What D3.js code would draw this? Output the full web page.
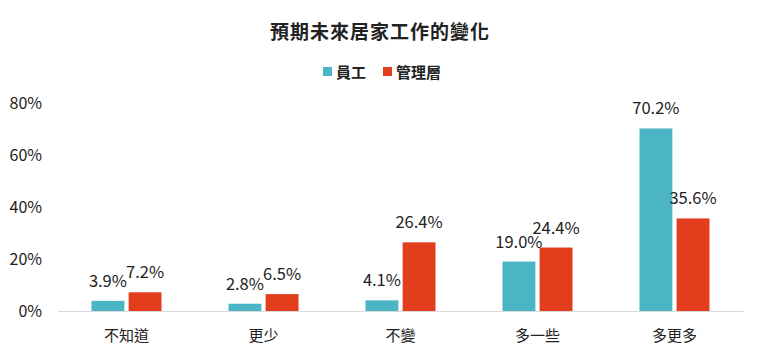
<!DOCTYPE html>
<html>
<head>
<meta charset="utf-8">
<script src="https://cdn.jsdelivr.net/npm/d3@7"></script>
<style>
  body { margin: 0; background: #fff; }
  text { font-family: "Noto Sans CJK TC", "Noto Sans", sans-serif; fill: #222; }
</style>
</head>
<body>
<svg id="chart" width="760" height="359"></svg>
<script>
const title = "預期未來居家工作的變化";
const categories = ["不知道", "更少", "不變", "多一些", "多更多"];
const seriesNames = ["員工", "管理層"];
const employees = [3.9, 2.8, 4.1, 19.0, 70.2];
const managers = [7.2, 6.5, 26.4, 24.4, 35.6];
const yTicks = [0, 20, 40, 60, 80];
const colors = ["#4BB5C6", "#E23D1C"];

const svg = d3.select("#chart");
const plotLeft = 58, plotRight = 743, plotTop = 103, plotBottom = 311;

const x = d3.scaleBand().domain(categories).range([plotLeft, plotRight]).padding(0);
const y = d3.scaleLinear().domain([0, 80]).range([plotBottom, plotTop]);
const barW = 31, gap = 8;
const x1 = d3.scaleBand().domain(seriesNames).range([-(barW + gap / 2), barW + gap / 2]).paddingInner(gap / (2 * barW + gap)).paddingOuter(0);

// title
svg.append("text").attr("x", 380).attr("y", 30).attr("text-anchor", "middle")
  .attr("dominant-baseline", "central").style("font-size", "19px").style("font-weight", "bold")
  .style("letter-spacing", "1px").text(title);

// legend
const legendItems = [{name: seriesNames[0], x: 323}, {name: seriesNames[1], x: 383}];
legendItems.forEach((d, i) => {
  svg.append("rect").attr("x", d.x).attr("y", 67).attr("width", 9).attr("height", 9).attr("fill", colors[i]);
  svg.append("text").attr("x", d.x + 13).attr("y", 71.5).attr("dominant-baseline", "central")
    .style("font-size", "15px").style("font-weight", "bold").text(d.name);
});

// y axis labels
const yAxis = d3.axisLeft(y).tickValues(yTicks).tickFormat(d => d + "%").tickSize(0).tickPadding(0);
const yg = svg.append("g").attr("transform", `translate(42,0)`).call(yAxis);
yg.select(".domain").remove();
yg.selectAll("text").style("font-size", "16px").style("fill", "#222")
  .style("font-family", '"Noto Sans CJK TC", "Noto Sans", sans-serif');

// x axis
const xAxis = d3.axisBottom(x).tickSize(0).tickPadding(19);
const xg = svg.append("g").attr("transform", `translate(0,${plotBottom})`).call(xAxis);
xg.select(".domain").attr("stroke", "#d9d9d9").attr("stroke-width", 1.2);
xg.selectAll("text").style("font-size", "15px").style("fill", "#222")
  .style("font-family", '"Noto Sans CJK TC", "Noto Sans", sans-serif');

// bars
const series = [employees, managers];
series.forEach((vals, si) => {
  const g = svg.append("g");
  g.selectAll("rect").data(vals).join("rect")
    .attr("x", (d, i) => x(categories[i]) + x.bandwidth() / 2 + x1(seriesNames[si]))
    .attr("y", d => y(d))
    .attr("width", x1.bandwidth())
    .attr("height", d => plotBottom - y(d))
    .attr("fill", colors[si]);
  g.selectAll("text").data(vals).join("text")
    .attr("x", (d, i) => x(categories[i]) + x.bandwidth() / 2 + x1(seriesNames[si]) + x1.bandwidth() / 2)
    .attr("y", d => y(d) - 14)
    .attr("text-anchor", "middle")
    .style("font-size", "16.5px")
    .text(d => d.toFixed(1) + "%");
});
</script>
</body>
</html>
